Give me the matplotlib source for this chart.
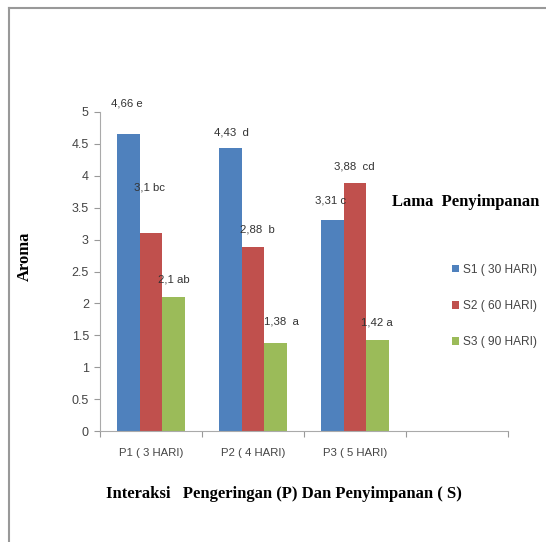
import matplotlib
matplotlib.use("Agg")
import matplotlib.pyplot as plt
import numpy as np

categories = ["P1 ( 3 HARI)", "P2 ( 4 HARI)", "P3 ( 5 HARI)"]
series_names = ["S1 ( 30 HARI)", "S2 ( 60 HARI)", "S3 ( 90 HARI)"]
s1 = [4.66, 4.43, 3.31]
s2 = [3.10, 2.88, 3.88]
s3 = [2.10, 1.38, 1.42]
labels_s1 = ["4,66 e", "4,43  d", "3,31 c"]
labels_s2 = ["3,1 bc", "2,88  b", "3,88  cd"]
labels_s3 = ["2,1 ab", "1,38  a", "1,42 a"]
y_ticks = [0, 0.5, 1, 1.5, 2, 2.5, 3, 3.5, 4, 4.5, 5]
y_tick_labels = ["0", "0.5", "1", "1.5", "2", "2.5", "3", "3.5", "4", "4.5", "5"]

colors = ["#4F81BD", "#C0504D", "#9BBB59"]
sans = ["Liberation Sans Narrow", "Liberation Sans", "DejaVu Sans"]
serif = ["Liberation Serif", "DejaVu Serif"]

fig = plt.figure(figsize=(5.46, 5.42), dpi=100)
# outer frame lines (top and left)
fig.add_artist(plt.Line2D([9/546, 9/546], [0, 1 - 8/542], color="#999999", lw=1.5, transform=fig.transFigure))
fig.add_artist(plt.Line2D([9/546, 1], [1 - 8/542, 1 - 8/542], color="#999999", lw=1.5, transform=fig.transFigure))

ax = fig.add_axes([100/546, 1 - 431/542, 408/546, 319/542])
x = np.arange(len(categories)) + 0.5
w = 0.22
all_series = [s1, s2, s3]
all_labels = [labels_s1, labels_s2, labels_s3]
offsets = [  # per series, per category: (dx px, dy px) of label center from bar top center
    [(-2, 30), (1, 16), (-2, 19)],
    [(-2, 46), (4, 18), (-1, 17)],
    [(0, 18), (6, 21), (-1, 18)],
]
for i, (vals, labs) in enumerate(zip(all_series, all_labels)):
    xs = x + (i - 1) * w
    ax.bar(xs, vals, width=w, color=colors[i], label=series_names[i])
    for j, (xx, v, lab) in enumerate(zip(xs, vals, labs)):
        dx, dy = offsets[i][j]
        ax.annotate(lab, (xx, v), xytext=(dx * 0.72, dy * 0.72), textcoords="offset points",
                    ha="center", va="center", fontsize=8.2, family=sans, color="#333333")

ax.set_xlim(0, 4)
ax.set_ylim(0, 5)
ax.set_yticks(y_ticks)
ax.set_yticklabels(y_tick_labels, family=sans, fontsize=9, color="#444444")
ax.set_xticks([0, 1, 2, 3, 4])
ax.set_xticklabels([])
ax.set_xticks(x, minor=True)
ax.set_xticklabels(categories, minor=True, family=sans, fontsize=8.2, color="#444444")
ax.tick_params(axis="x", which="minor", length=0, pad=12)
ax.tick_params(axis="x", which="major", length=4, color="#999999", direction="out")
ax.tick_params(axis="y", length=4, color="#999999", direction="out", pad=4)
for s in ["top", "right"]:
    ax.spines[s].set_visible(False)
for s in ["left", "bottom"]:
    ax.spines[s].set_color("#AAAAAA")

fig.text(25/546, 1 - 256/542, "Aroma", rotation=90, ha="center", va="center",
         family=serif, fontweight="bold", fontsize=12)
fig.text(284/546, 1 - 494/542, "Interaksi   Pengeringan (P) Dan Penyimpanan ( S)",
         ha="center", va="center", family=serif, fontweight="bold", fontsize=12)
fig.text(466/546, 1 - 202/542, "Lama  Penyimpanan", ha="center", va="center",
         family=serif, fontweight="bold", fontsize=12)

leg = ax.legend(loc="center left", bbox_to_anchor=(452/546, 1 - 306/542), bbox_transform=fig.transFigure,
                frameon=False, prop={"family": sans, "size": 8.6}, handlelength=0.6, handleheight=0.6,
                handletextpad=0.3, labelspacing=2.05, labelcolor="#444444", borderpad=0, borderaxespad=0)

fig.savefig("out.png", dpi=100)
